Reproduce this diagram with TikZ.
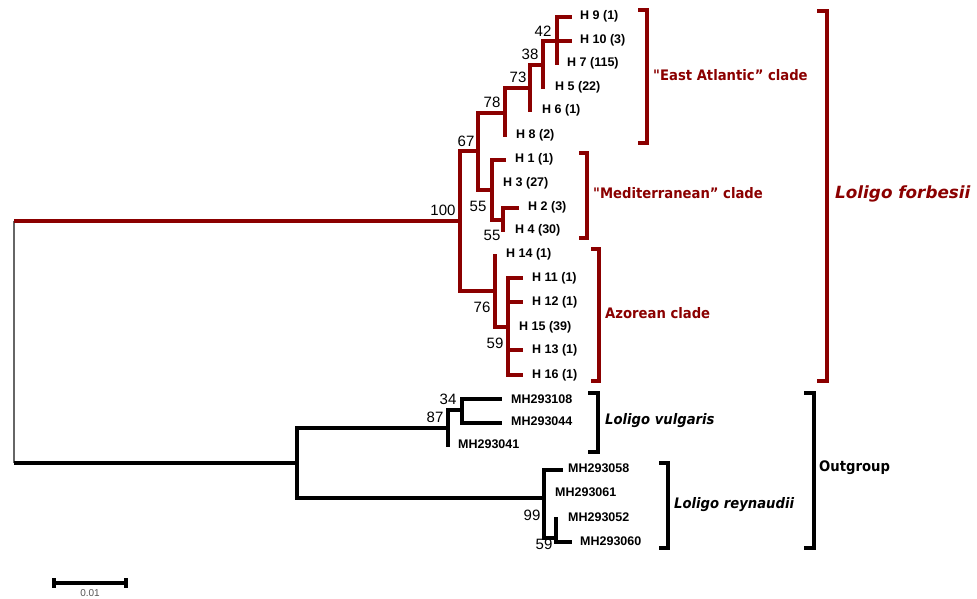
\documentclass[tikz,border=0pt]{standalone}
\usepackage{fontspec}
\newfontfamily\arialfont{Liberation Sans}
\newfontfamily\verdfont[FakeStretch=0.91]{DejaVu Sans}
\newfontfamily\verdwide{DejaVu Sans}
\definecolor{fred}{RGB}{139,0,0}
\definecolor{sgray}{RGB}{85,85,85}
\begin{document}
\begin{tikzpicture}[x=1pt,y=-1pt,
  rbr/.style={draw=fred,line width=3.2pt},
  bbr/.style={draw=black,line width=3.1pt},
  gbr/.style={draw=black!60,line width=1.6pt},
  rbrk/.style={draw=fred,line width=3.2pt},
  bbrk/.style={draw=black,line width=3.2pt},
  tip/.style={anchor=west,inner sep=0pt,font=\arialfont\bfseries\fontsize{12.5}{12.5}\selectfont},
  boot/.style={inner sep=0pt,font=\arialfont\fontsize{15}{15}\selectfont},
  clade/.style={anchor=west,inner sep=0pt,font=\verdfont\bfseries\fontsize{14.5}{15}\selectfont},
  species/.style={anchor=west,inner sep=0pt,font=\verdfont\bfseries\itshape\fontsize{14.5}{15}\selectfont}]
\useasboundingbox (0,0) rectangle (977,599);
\fill[white] (0,0) rectangle (977,599);

% ---------- root ----------
\coordinate (root) at (14,221);
\coordinate (rootb) at (14,463);
\draw[gbr] (root) -- (rootb);

% ---------- Loligo forbesii (red) ----------
\coordinate (n100) at (460,221);
\coordinate (n67) at (478,151);
\coordinate (n76) at (495,291);
\coordinate (n78) at (505,113);
\coordinate (nmed) at (492,190);
\coordinate (n73) at (530,88);
\coordinate (n38) at (543,65);
\coordinate (n42) at (557,41);
\coordinate (n55b) at (503,220);
\coordinate (n59) at (508,327);
\coordinate (h9) at (572,17);
\coordinate (h10) at (572,41);
\coordinate (h7) at (557,65);
\coordinate (h5) at (543,89);
\coordinate (h6) at (530,112);
\coordinate (h8) at (505,137);
\coordinate (h1) at (506,160);
\coordinate (h3) at (492,183);
\coordinate (h2) at (519,208);
\coordinate (h4) at (503,232);
\coordinate (h14) at (495,254);
\coordinate (h11) at (523,278);
\coordinate (h12) at (523,302);
\coordinate (h15) at (508,327);
\coordinate (h13) at (523,350);
\coordinate (h16) at (523,375);

\draw[rbr] (root) -- (n100);
\draw[rbr] (n100) |- (n67);
\draw[rbr] (n100) |- (n76);
\draw[rbr] (n67) |- (n78);
\draw[rbr] (n67) |- (nmed);
\draw[rbr] (n78) |- (n73);
\draw[rbr] (n78) |- (h8);
\draw[rbr] (n73) |- (n38);
\draw[rbr] (n73) |- (h6);
\draw[rbr] (n38) |- (n42);
\draw[rbr] (n38) |- (h5);
\draw[rbr] (n42) |- (h9);
\draw[rbr] (n42) |- (h10);
\draw[rbr] (n42) |- (h7);
\draw[rbr] (nmed) |- (h1);
\draw[rbr] (nmed) |- (h3);
\draw[rbr] (nmed) |- (n55b);
\draw[rbr] (n55b) |- (h2);
\draw[rbr] (n55b) |- (h4);
\draw[rbr] (n76) |- (h14);
\draw[rbr] (n76) |- (n59);
\draw[rbr] (n59) |- (h11);
\draw[rbr] (n59) |- (h12);
\draw[rbr] (n59) |- (h15);
\draw[rbr] (n59) |- (h13);
\draw[rbr] (n59) |- (h16);

\node[tip] (lh9) at (580,16) {H 9 (1)};
\node[tip] (lh10) at (580,40) {H 10 (3)};
\node[tip] (lh7) at (567,63) {H 7 (115)};
\node[tip] (lh5) at (555,87) {H 5 (22)};
\node[tip] (lh6) at (542,110) {H 6 (1)};
\node[tip] (lh8) at (516,135) {H 8 (2)};
\node[tip] (lh1) at (515,159) {H 1 (1)};
\node[tip] (lh3) at (503,183) {H 3 (27)};
\node[tip] (lh2) at (528,207) {H 2 (3)};
\node[tip] (lh4) at (515,230) {H 4 (30)};
\node[tip] (lh14) at (506,254) {H 14 (1)};
\node[tip] (lh11) at (532,278) {H 11 (1)};
\node[tip] (lh12) at (532,302) {H 12 (1)};
\node[tip] (lh15) at (519,327) {H 15 (39)};
\node[tip] (lh13) at (532,350) {H 13 (1)};
\node[tip] (lh16) at (532,375) {H 16 (1)};

\node[boot] (b100) at (443,210) {100};
\node[boot] (b67) at (466,141) {67};
\node[boot] (b78) at (492,102) {78};
\node[boot] (b73) at (518,77) {73};
\node[boot] (b38) at (530,54) {38};
\node[boot] (b42) at (543,31) {42};
\node[boot] (b55a) at (478,206) {55};
\node[boot] (b55b) at (492,235) {55};
\node[boot] (b76) at (482,307) {76};
\node[boot] (b59a) at (495,343) {59};

% ---------- outgroup (black) ----------
\coordinate (nout) at (297,463);
\coordinate (n87) at (448,428);
\coordinate (n34) at (462,410);
\coordinate (n99) at (544,498);
\coordinate (n59b) at (556,538);
\coordinate (m108) at (502,399);
\coordinate (m044) at (502,423);
\coordinate (m041) at (448,447);
\coordinate (m058) at (563,470);
\coordinate (m061) at (544,492);
\coordinate (m052) at (556,517);
\coordinate (m060) at (572,542);

\draw[bbr] (rootb) -- (nout);
\draw[bbr] (nout) |- (n87);
\draw[bbr] (nout) |- (n99);
\draw[bbr] (n87) |- (n34);
\draw[bbr] (n87) |- (m041);
\draw[bbr] (n34) |- (m108);
\draw[bbr] (n34) |- (m044);
\draw[bbr] (n99) |- (m058);
\draw[bbr] (n99) |- (m061);
\draw[bbr] (n99) |- (n59b);
\draw[bbr] (n59b) |- (m052);
\draw[bbr] (n59b) |- (m060);

\node[tip] (lm108) at (511,399) {MH293108};
\node[tip] (lm044) at (511,421) {MH293044};
\node[tip] (lm041) at (458,444) {MH293041};
\node[tip] (lm058) at (568,468) {MH293058};
\node[tip] (lm061) at (555,492) {MH293061};
\node[tip] (lm052) at (568,517) {MH293052};
\node[tip] (lm060) at (580,541) {MH293060};

\node[boot] (b34) at (448,399) {34};
\node[boot] (b87) at (435,417) {87};
\node[boot] (b99) at (532,515) {99};
\node[boot] (b59b) at (544,544) {59};

% ---------- brackets ----------
\draw[rbrk] (638,10) -- (647,10) -- (647,143) -- (638,143);
\node[clade,text=fred] (cea) at (653,75) {"East Atlantic” clade};
\draw[rbrk] (579,153) -- (587,153) -- (587,238) -- (579,238);
\node[clade,text=fred] (cmed) at (593,193) {"Mediterranean” clade};
\draw[rbrk] (591,249) -- (599,249) -- (599,381) -- (591,381);
\node[clade,text=fred] (caz) at (605,313) {Azorean clade};
\draw[rbrk] (817,11) -- (827,11) -- (827,381) -- (817,381);
\node[species,text=fred,font=\verdwide\bfseries\itshape\fontsize{16.8}{18}\selectfont] (cfor) at (835,194) {Loligo forbesii};

\draw[bbrk] (588,393) -- (598,393) -- (598,452) -- (588,452);
\node[species] (cvul) at (605,421) {Loligo vulgaris};
\draw[bbrk] (659,463) -- (668,463) -- (668,548) -- (659,548);
\node[species] (crey) at (674,505) {Loligo reynaudii};
\draw[bbrk] (804,393) -- (814,393) -- (814,548) -- (804,548);
\node[clade] (cout) at (819,468) {Outgroup};

% ---------- scale bar ----------
\coordinate (sb1) at (54,583);
\coordinate (sb2) at (126,583);
\draw[line width=3.1pt] (sb1) -- (sb2);
\draw[line width=3.1pt] (54,578) -- (54,588);
\draw[line width=3.1pt] (126,578) -- (126,588);
\node[inner sep=0pt,text=sgray,font=\arialfont\fontsize{10}{10}\selectfont] (sbl) at (90,593) {0.01};
\end{tikzpicture}
\end{document}
